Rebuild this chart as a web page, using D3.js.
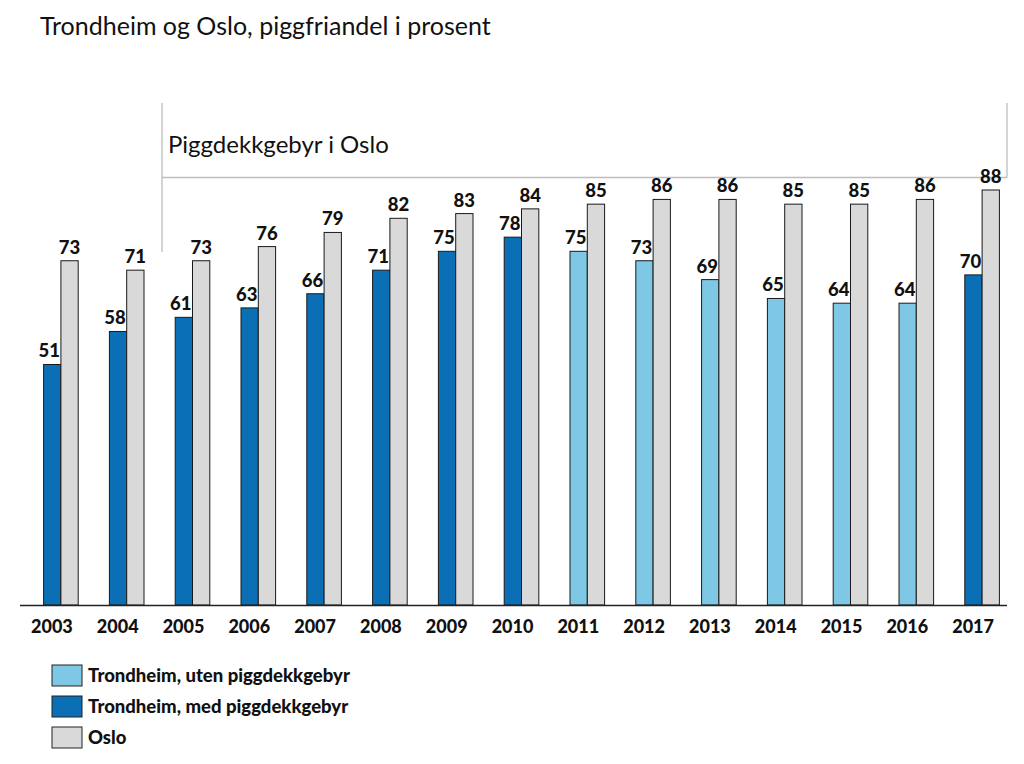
<!DOCTYPE html>
<html><head><meta charset="utf-8">
<script src="https://cdn.jsdelivr.net/npm/d3@7"></script>
<style>body{margin:0;background:#fff}svg{display:block}text{font-family:Lato,"Open Sans",sans-serif}</style>
</head><body><svg id="c" width="1024" height="764"></svg>
<script>
const years = ["2003","2004","2005","2006","2007","2008","2009","2010","2011","2012","2013","2014","2015","2016","2017"];
const trondheim = [51,58,61,63,66,71,75,78,75,73,69,65,64,64,70];
const trondheimFee = [true,true,true,true,true,true,true,true,false,false,false,false,false,false,true];
const oslo = [73,71,73,76,79,82,83,84,85,86,86,85,85,86,88];
const legendLabels = ["Trondheim, uten piggdekkgebyr","Trondheim, med piggdekkgebyr","Oslo"];
const colors = {light:"#7EC8E6", dark:"#0A6FB5", grey:"#D9D9D9"};

const svg = d3.select("#c");
const x = d3.scaleBand().domain(years).range([20,1007]);
const y = d3.scaleLinear().domain([0,88]).range([605,190]);
const bw = 17.3, off = 8;

svg.append("text").attr("x",40).attr("y",35).attr("font-size",25).attr("fill","#111")
  .text("Trondheim og Oslo, piggfriandel i prosent");

// bracket
const br = svg.append("g").attr("stroke","#BDBDBD").attr("stroke-width",1.3).attr("fill","none");
br.append("line").attr("x1",162).attr("x2",162).attr("y1",103).attr("y2",252);
br.append("line").attr("x1",162).attr("x2",1007).attr("y1",177.5).attr("y2",177.5);
br.append("line").attr("x1",1007).attr("x2",1007).attr("y1",103).attr("y2",177.5);
svg.append("text").attr("x",168).attr("y",153).attr("font-size",24).attr("fill","#111").text("Piggdekkgebyr i Oslo");

const g = svg.append("g");
const cx = d => x(d) + x.bandwidth()/2 + off;
g.selectAll("rect.t").data(years).join("rect")
  .attr("x",(d)=>cx(d)-bw).attr("width",bw)
  .attr("y",(d,i)=>y(trondheim[i])).attr("height",(d,i)=>605-y(trondheim[i]))
  .attr("fill",(d,i)=>trondheimFee[i]?colors.dark:colors.light)
  .attr("stroke","#1a1a1a").attr("stroke-width",1);
g.selectAll("rect.o").data(years).join("rect")
  .attr("x",(d)=>cx(d)).attr("width",bw)
  .attr("y",(d,i)=>y(oslo[i])).attr("height",(d,i)=>605-y(oslo[i]))
  .attr("fill",colors.grey).attr("stroke","#1a1a1a").attr("stroke-width",1);

g.selectAll("text.t").data(years).join("text")
  .attr("x",d=>cx(d)-bw/2-3).attr("y",(d,i)=>y(trondheim[i])-7)
  .attr("text-anchor","middle").attr("font-size",18.5).attr("font-weight",900).attr("fill","#111")
  .text((d,i)=>trondheim[i]);
g.selectAll("text.o").data(years).join("text")
  .attr("x",d=>cx(d)+bw/2).attr("y",(d,i)=>y(oslo[i])-7)
  .attr("text-anchor","middle").attr("font-size",18.5).attr("font-weight",900).attr("fill","#111")
  .text((d,i)=>oslo[i]);

// axis
svg.append("line").attr("x1",20).attr("x2",1007).attr("y1",605.5).attr("y2",605.5).attr("stroke","#222").attr("stroke-width",1.3);
const ax = svg.append("g").attr("transform","translate(0,605)")
  .call(d3.axisBottom(x).tickSize(0).tickPadding(15));
ax.select(".domain").remove();
ax.selectAll("text").attr("font-size",18).attr("font-weight",900).attr("fill","#111")
  .attr("font-family","Lato,'Open Sans',sans-serif").attr("dx",-1);

// legend
const lg = svg.append("g");
const lc = [colors.light, colors.dark, colors.grey];
legendLabels.forEach((l,i)=>{
  const yy = 665 + i*31;
  lg.append("rect").attr("x",52).attr("y",yy).attr("width",30).attr("height",21)
    .attr("fill",lc[i]).attr("stroke","#222").attr("stroke-width",1);
  lg.append("text").attr("x",88).attr("y",yy+17).attr("font-size",18.5).attr("font-weight",900).attr("fill","#111").text(l);
});
</script></body></html>
